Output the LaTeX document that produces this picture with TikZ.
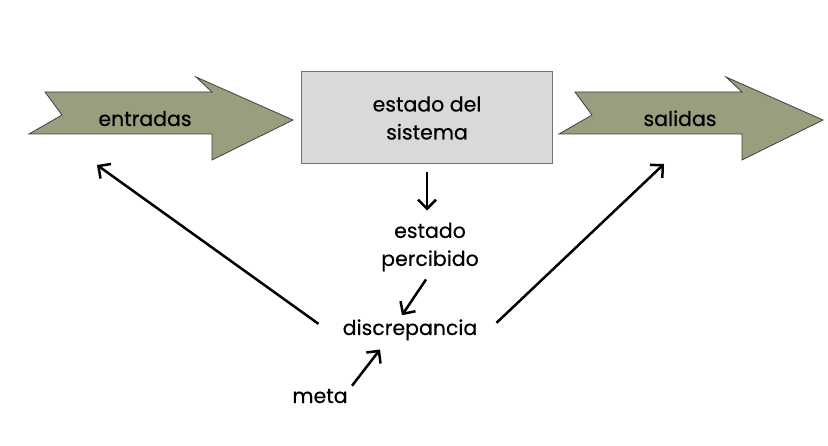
\documentclass[tikz,border=0pt]{standalone}
\usepackage{fontspec}
\setmainfont{Poppins}[FakeBold=0.4]
\usetikzlibrary{arrows.meta,positioning}
\definecolor{Oliva}{HTML}{9A9E7F}
\definecolor{GrisCaja}{HTML}{D9D9D9}
\tikzset{
	flecha/.style={-{Straight Barb[length=9pt,width=18pt]},line width=2.5pt,draw=black},
	gorda/.style={fill=Oliva,draw=black!75,line width=0.8pt,line join=miter},
	caja/.style={draw=black!55,fill=GrisCaja,line width=1pt,minimum width=251pt,minimum height=92pt,align=center},
	texto/.style={align=center,inner sep=0pt}
}
\begin{document}
\begin{tikzpicture}[x=1pt,y=-1pt,font=\fontsize{20.5}{28}\selectfont]
		\useasboundingbox (0,0) rectangle (828,446);
		% flechas gordas
		\foreach \dx/\nombre/\cx in {0/entradas/145,530/salidas/150}{
			\draw[gorda] ({45+\dx},92) -- ({212+\dx},92) -- ({196+\dx},77) -- ({293+\dx},120) -- ({212+\dx},160) -- ({212+\dx},134) -- ({29+\dx},134) -- ({62+\dx},115) -- cycle;
			\node[texto,anchor=base] (\nombre) at ({\cx+\dx},126) {\nombre};
		}
		\node[caja] (sistema) at (427,118) {estado del\\sistema};
		\node[texto] (percibido) at (430,247) {estado\\percibido};
		\node[texto,anchor=base] (discrepancia) at (410,335) {discrepancia};
		\node[texto,anchor=base] (meta) at (320,403) {meta};
		\coordinate (haciaentradas) at (97,165);
		\coordinate (haciasalidas) at (664,164);
		\draw[flecha] ([yshift=-8pt]sistema.south) -- ([yshift=-46pt]sistema.south);
		\draw[flecha] ([shift={(-4,8)}]percibido.south) -- ([shift={(-8,-4)}]discrepancia.north);
		\draw[flecha] ([shift={(32,-3)}]meta.north) -- ([shift={(-30,9)}]discrepancia.south);
		\draw[flecha] ([shift={(-24,-6)}]discrepancia.west) -- (haciaentradas);
		\draw[flecha] ([shift={(19,-7)}]discrepancia.east) -- (haciasalidas);
\end{tikzpicture}
\end{document}
